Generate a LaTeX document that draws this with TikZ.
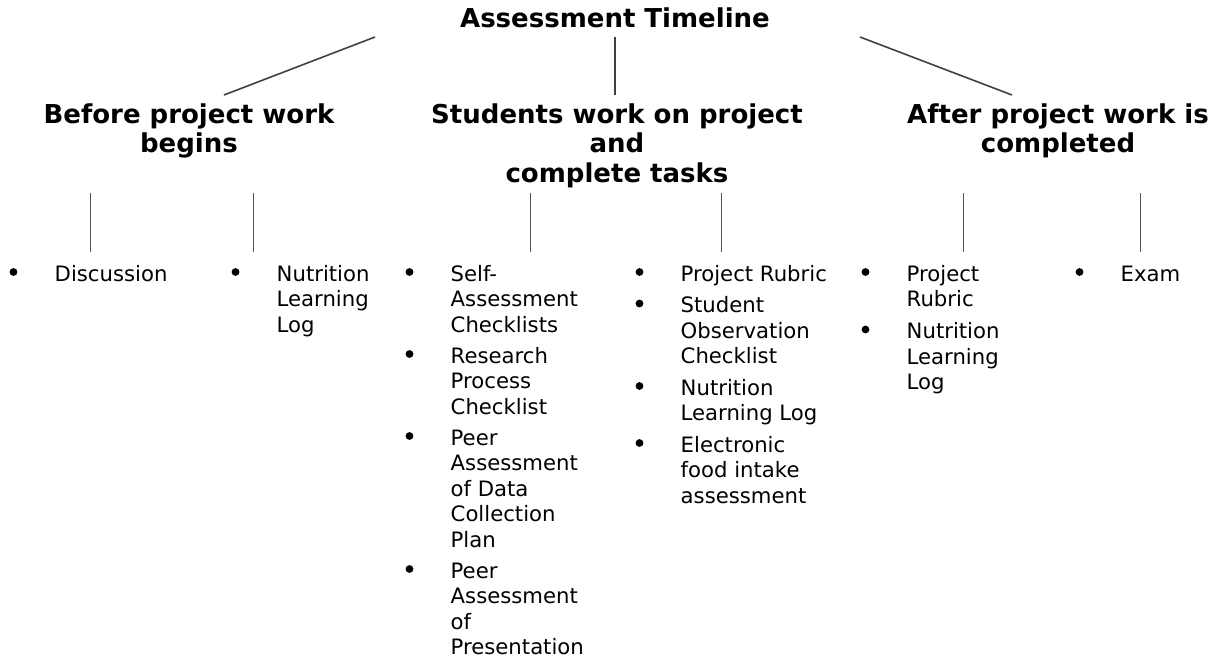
\documentclass[tikz,border=0pt]{standalone}
\usepackage{fontspec}
\setmainfont{DejaVu Sans}
\usetikzlibrary{positioning}

% lines of one cell, stacked, baseline on the first line
\newcommand{\stacklines}[2][l]{\begin{tabular}[t]{@{}#1@{}}#2\end{tabular}}

\begin{document}
\begin{tikzpicture}[x=1pt,y=-1pt,
        title/.style={font=\fontsize{26}{30}\selectfont\bfseries, inner sep=0pt, anchor=base},
        phase/.style={font=\fontsize{26}{29.5}\selectfont\bfseries, inner sep=0pt, anchor=base},
        entry/.style={font=\fontsize{21.2}{25.5}\selectfont, inner sep=0pt, anchor=base west},
        branch/.style={draw=black!75, line width=1.6pt},
        stem/.style={draw=black!65, line width=0.9pt}]

    \useasboundingbox (0,0) rectangle (1230,661);

    % top of the tree
    \node[title] (timeline) at (615,28) {Assessment Timeline};

    \node[phase] (before) at (189,123) {\stacklines[c]{Before project work\\begins}};
    \node[phase] (during) at (617,123) {\stacklines[c]{Students work on project\\and\\complete tasks}};
    \node[phase] (after)  at (1058,123) {\stacklines[c]{After project work is\\completed}};

    \coordinate (tl-left)  at (375,37);
    \coordinate (tl-mid)   at (615,37);
    \coordinate (tl-right) at (860,37);
    \coordinate (before-top) at (224,95);
    \coordinate (during-top) at (615,95);
    \coordinate (after-top)  at (1012,95);

    \draw[branch] (tl-left) -- (before-top);
    \draw[branch] (tl-mid) -- (during-top);
    \draw[branch] (tl-right) -- (after-top);

    % short stems above each list
    \foreach \x/\k in {90/1,253/2,530/3,721/4,963/5,1140/6}{
        \coordinate (stem\k-top) at (\x,193);
        \coordinate (stem\k-end) at (\x,252);
        \draw[stem] (stem\k-top) -- (stem\k-end);
    }

    % lists
    \node[entry] (a1) at (54.5,281) {Discussion};

    \node[entry] (b1) at (276.5,281) {\stacklines{Nutrition\\Learning\\Log}};

    \node[entry] (c1) at (450.5,281) {\stacklines{Self-\\Assessment\\Checklists}};
    \node[entry] (c2) at (450.5,363) {\stacklines{Research\\Process\\Checklist}};
    \node[entry] (c3) at (450.5,445) {\stacklines{Peer\\Assessment\\of Data\\Collection\\Plan}};
    \node[entry] (c4) at (450.5,578) {\stacklines{Peer\\Assessment\\of\\Presentation}};

    \node[entry] (d1) at (680.5,281)   {Project Rubric};
    \node[entry] (d2) at (680.5,312.5) {\stacklines{Student\\Observation\\Checklist}};
    \node[entry] (d3) at (680.5,395)   {\stacklines{Nutrition\\Learning Log}};
    \node[entry] (d4) at (680.5,452)   {\stacklines{Electronic\\food intake\\assessment}};

    \node[entry] (e1) at (906.5,281)   {\stacklines{Project\\Rubric}};
    \node[entry] (e2) at (906.5,338.5) {\stacklines{Nutrition\\Learning\\Log}};

    \node[entry] (f1) at (1120.5,281) {Exam};

    % bullets
    \foreach \n in {a1,b1,c1,c2,c3,c4,d1,d2,d3,d4,e1,e2,f1}
        \fill ([xshift=-41pt,yshift=9pt]\n.base west) circle (3.9);

\end{tikzpicture}
\end{document}
